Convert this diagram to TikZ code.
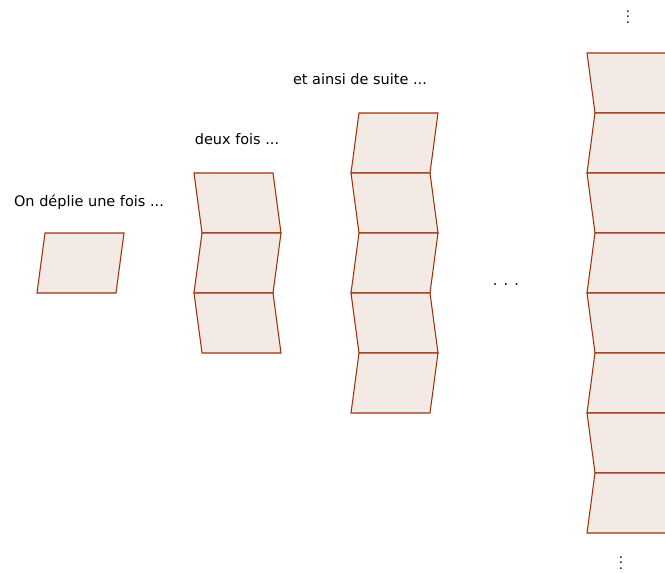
\documentclass[tikz,border=0pt]{standalone}
\usepackage{xcolor}
\usepackage{tikz}
\usepackage{amsmath}
\usepackage{fontspec}
\setmainfont{DejaVu Sans}
\definecolor{pli}{RGB}{160,50,10}
\definecolor{papier}{RGB}{243,234,229}

\begin{document}
\begin{tikzpicture}[scale=0.52917,
		panneau/.style={draw=pli, fill=papier, line width=0.8pt, line join=miter},
		legende/.style={font=\fontsize{10.9}{13}\selectfont}]
				\clip (0,-1.95) rectangle (33.25,26.65);
				% une fois
				\draw[panneau] (2.25,15) -- ++(3.95,0) -- ++(-0.4,-3) -- ++(-3.95,0) -- cycle;
				\node[legende] (une) at (4.45,16.55) {On déplie une fois ...};
				% deux fois
				\draw[panneau] (9.7,18) -- ++(3.95,0) -- ++(0.4,-3) -- ++(-3.95,0) -- cycle;
				\draw[panneau] (10.1,15) -- ++(3.95,0) -- ++(-0.4,-3) -- ++(-3.95,0) -- cycle;
				\draw[panneau] (9.7,12) -- ++(3.95,0) -- ++(0.4,-3) -- ++(-3.95,0) -- cycle;
				\node[legende] (deux) at (11.85,19.7) {deux fois ...};
				% et ainsi de suite
				\draw[panneau] (17.95,21) -- ++(3.95,0) -- ++(-0.4,-3) -- ++(-3.95,0) -- cycle;
				\draw[panneau] (17.55,18) -- ++(3.95,0) -- ++(0.4,-3) -- ++(-3.95,0) -- cycle;
				\draw[panneau] (17.95,15) -- ++(3.95,0) -- ++(-0.4,-3) -- ++(-3.95,0) -- cycle;
				\draw[panneau] (17.55,12) -- ++(3.95,0) -- ++(0.4,-3) -- ++(-3.95,0) -- cycle;
				\draw[panneau] (17.95,9) -- ++(3.95,0) -- ++(-0.4,-3) -- ++(-3.95,0) -- cycle;
				\node[legende] (suite) at (18,22.7) {et ainsi de suite ...};
				\node[legende] (points) at (25.3,12.4) {. . .};
				% la bande entiere
				\draw[panneau] (29.35,24) -- ++(3.95,0) -- ++(0.4,-3) -- ++(-3.95,0) -- cycle;
				\draw[panneau] (29.75,21) -- ++(3.95,0) -- ++(-0.4,-3) -- ++(-3.95,0) -- cycle;
				\draw[panneau] (29.35,18) -- ++(3.95,0) -- ++(0.4,-3) -- ++(-3.95,0) -- cycle;
				\draw[panneau] (29.75,15) -- ++(3.95,0) -- ++(-0.4,-3) -- ++(-3.95,0) -- cycle;
				\draw[panneau] (29.35,12) -- ++(3.95,0) -- ++(0.4,-3) -- ++(-3.95,0) -- cycle;
				\draw[panneau] (29.75,9) -- ++(3.95,0) -- ++(-0.4,-3) -- ++(-3.95,0) -- cycle;
				\draw[panneau] (29.35,6) -- ++(3.95,0) -- ++(0.4,-3) -- ++(-3.95,0) -- cycle;
				\draw[panneau] (29.75,3) -- ++(3.95,0) -- ++(-0.4,-3) -- ++(-3.95,0) -- cycle;
				\node (haut) at (31.4,26.0) {$\vdots$};
				\node (bas) at (31.05,-1.3) {$\vdots$};
			\end{tikzpicture}
\end{document}
